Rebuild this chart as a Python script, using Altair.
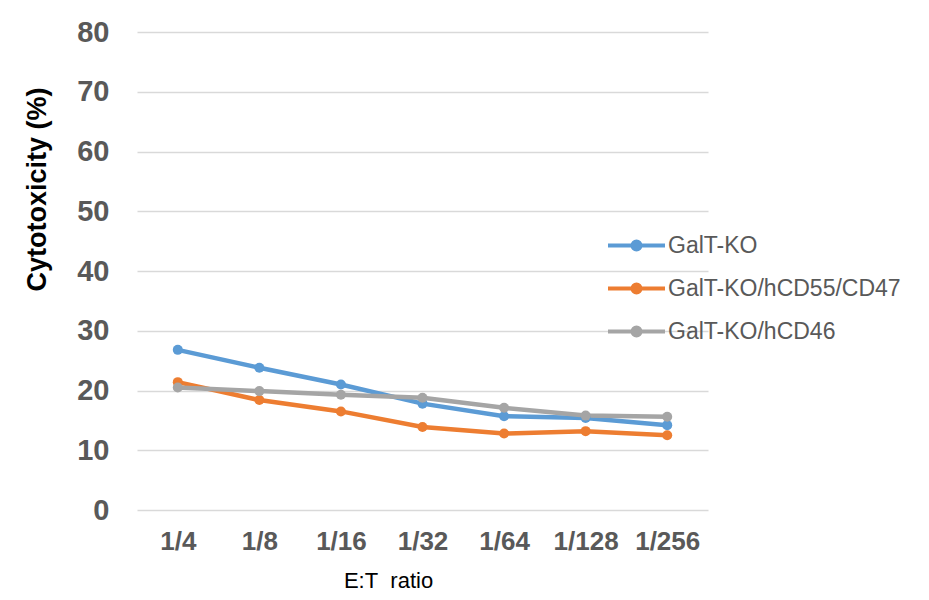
import altair as alt
import pandas as pd

ratios = ["1/4", "1/8", "1/16", "1/32", "1/64", "1/128", "1/256"]
series = ["GalT-KO", "GalT-KO/hCD55/CD47", "GalT-KO/hCD46"]
galt_ko = [26.8, 23.8, 21.0, 17.8, 15.7, 15.4, 14.2]
galt_cd55_cd47 = [21.4, 18.4, 16.5, 13.9, 12.8, 13.2, 12.5]
galt_cd46 = [20.5, 19.9, 19.3, 18.8, 17.1, 15.8, 15.6]
colors = ["#5B9BD5", "#ED7D31", "#A5A5A5"]
y_ticks = [0, 10, 20, 30, 40, 50, 60, 70, 80]

rows = []
for name, vals in zip(series, [galt_ko, galt_cd55_cd47, galt_cd46]):
    for r, v in zip(ratios, vals):
        rows.append({"ratio": r, "series": name, "value": v})
df = pd.DataFrame(rows)

FONT = "Liberation Sans"
legend_path = ("M-1,0L5,0"
               "M2.42,0A0.42,0.42 0 1,1 1.58,0A0.42,0.42 0 1,1 2.42,0Z"
               "M2.22,0A0.22,0.22 0 1,1 1.78,0A0.22,0.22 0 1,1 2.22,0Z"
               "M2.06,0A0.06,0.06 0 1,1 1.94,0A0.06,0.06 0 1,1 2.06,0Z")

chart = alt.Chart(df).mark_line(
    strokeWidth=4.5,
    point=alt.OverlayMarkDef(size=100, filled=True, opacity=1),
).encode(
    x=alt.X("ratio:N", sort=ratios,
            scale=alt.Scale(type="point", padding=0.5),
            axis=alt.Axis(title="E:T\u00a0 ratio", labelAngle=0, grid=False,
                          domain=False, ticks=False, labelFont=FONT,
                          labelFontSize=26, labelFontWeight="bold",
                          labelColor="#595959", labelPadding=18,
                          titleFont=FONT, titleFontSize=22,
                          titleFontWeight="normal", titleColor="#000000",
                          titleX=251, titleY=70, titleAlign="center",
                          titleBaseline="middle")),
    y=alt.Y("value:Q", scale=alt.Scale(domain=[0, 80]),
            axis=alt.Axis(title="Cytotoxicity (%)", values=y_ticks,
                          domain=False, ticks=False, grid=True,
                          gridColor="#D9D9D9", gridWidth=1.5,
                          labelFont=FONT, labelFontSize=29,
                          labelFontWeight="bold", labelColor="#595959",
                          labelPadding=28, titleFont=FONT,
                          titleFontSize=27, titleFontWeight="bold",
                          titleColor="#000000", titleX=-100, titleY=157,
                          titleAlign="center", titleBaseline="middle")),
    color=alt.Color("series:N",
                    scale=alt.Scale(domain=series, range=colors),
                    legend=alt.Legend(
                        title=None, orient="none", legendX=469, legendY=202,
                        symbolType=legend_path, symbolSize=361,
                        symbolStrokeWidth=4, labelFont=FONT,
                        labelFontSize=23, labelColor="#595959",
                        labelOffset=39, rowPadding=18, padding=0,
                        labelLimit=400,
                        labelExpr="datum.label == 'GalT-KO/hCD55/CD47' ? '\u2002' + datum.label : datum.label")),
    order=alt.Order("ratio_idx:Q"),
).transform_calculate(
    ratio_idx="indexof(" + str(ratios).replace("'", '"') + ", datum.ratio)"
).properties(
    width=571, height=478,
    autosize=alt.AutoSizeParams(type="none"),
    padding={"left": 129, "top": 24, "right": 213, "bottom": 82},
).configure(font=FONT).configure_view(stroke=None)

chart.save("out.html", embed_options={"renderer": "svg", "actions": False})
